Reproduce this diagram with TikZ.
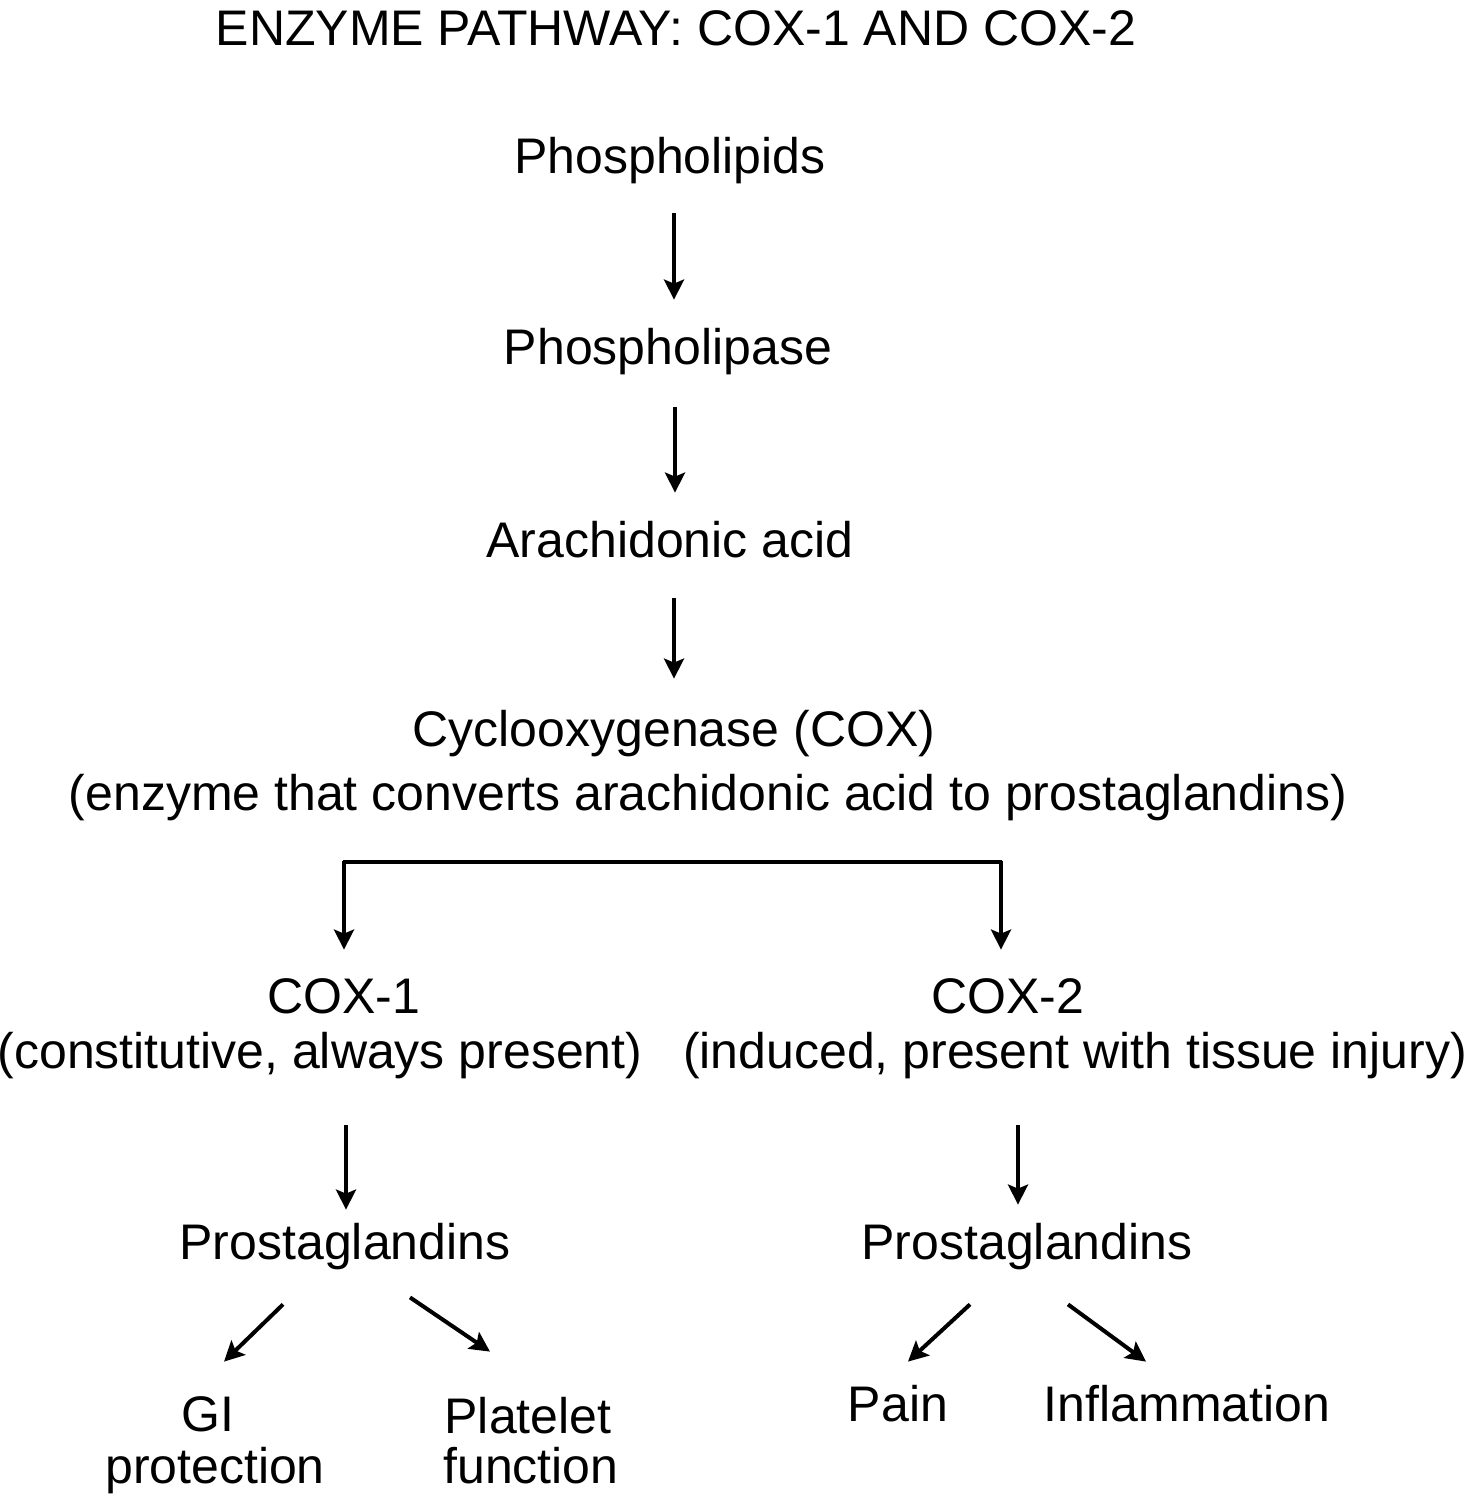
\documentclass[tikz,border=0pt]{standalone}
\usepackage{fontspec}
\setmainfont{Liberation Sans}
\usetikzlibrary{arrows.meta,calc}
\begin{document}
\begin{tikzpicture}[x=0.5pt,y=-0.5pt,
  lbl/.style={inner sep=0pt, text height=18pt, text depth=5pt, anchor=base,
    font=\fontsize{25}{28}\selectfont},
  arr/.style={line width=2pt, -{Stealth[length=10pt,width=10pt,inset=2pt]}},
  bar/.style={line width=2pt}]
\useasboundingbox (0,0) rectangle (1466,1494);
\node[lbl] (title) at (676,45) {ENZYME PATHWAY: COX-1 AND COX-2};
\node[lbl] (phos) at (670,173) {Phospholipids};
\node[lbl] (lipase) at (668,364) {Phospholipase};
\node[lbl] (arach) at (670,557) {Arachidonic acid};
\node[lbl] (cox) at (674,746) {Cyclooxygenase (COX)};
\node[lbl] (coxnote) at (708,810) {(enzyme that converts arachidonic acid to prostaglandins)};
\node[lbl] (cox1) at (344,1013) {COX-1};
\node[lbl] (cox1note) at (320,1068) {(constitutive, always present)};
\node[lbl] (cox2) at (1008,1013) {COX-2};
\node[lbl] (cox2note) at (1075,1068) {(induced, present with tissue injury)};
\node[lbl] (prost1) at (345,1259) {Prostaglandins};
\node[lbl] (prost2) at (1027,1259) {Prostaglandins};
\node[lbl] (gi) at (208,1431) {GI};
\node[lbl] (gi2) at (215,1483) {protection};
\node[lbl] (plat) at (528,1433) {Platelet};
\node[lbl] (plat2) at (531,1483) {function};
\node[lbl] (pain) at (898,1421) {Pain};
\node[lbl] (infl) at (1187,1421) {Inflammation};
% main chain
\draw[arr] ($(phos.south)+(4,30)$) -- ($(lipase.north)+(6,-28)$);
\draw[arr] ($(lipase.south)+(7,33)$) -- ($(arach.north)+(5,-28)$);
\draw[arr] ($(arach.south)+(4,31)$) -- ($(cox.north)+(0,-31)$);
% branch
\draw[bar] ($(cox1.north)+(-1,-115)$) -- ($(cox2.north)+(-6,-115)$);
\draw[arr] ($(cox1.north)+(0,-116)$) -- ($(cox1.north)+(0,-27)$);
\draw[arr] ($(cox2.north)+(-7,-116)$) -- ($(cox2.north)+(-7,-27)$);
% to prostaglandins
\draw[arr] ($(cox1note.south)+(26,47)$) -- ($(prost1.north)+(1,-13)$);
\draw[arr] ($(cox2note.south)+(-57,47)$) -- ($(prost2.north)+(-9,-18)$);
% effects
\draw[arr] ($(prost1.south)+(-62,35)$) -- ($(gi.north)+(16,-33)$);
\draw[arr] ($(prost1.south)+(65,28)$) -- ($(plat.north)+(-38,-45)$);
\draw[arr] ($(prost2.south)+(-57,35)$) -- ($(pain.north)+(10,-23)$);
\draw[arr] ($(prost2.south)+(41,35)$) -- ($(infl.north)+(-41,-23)$);
\end{tikzpicture}
\end{document}
